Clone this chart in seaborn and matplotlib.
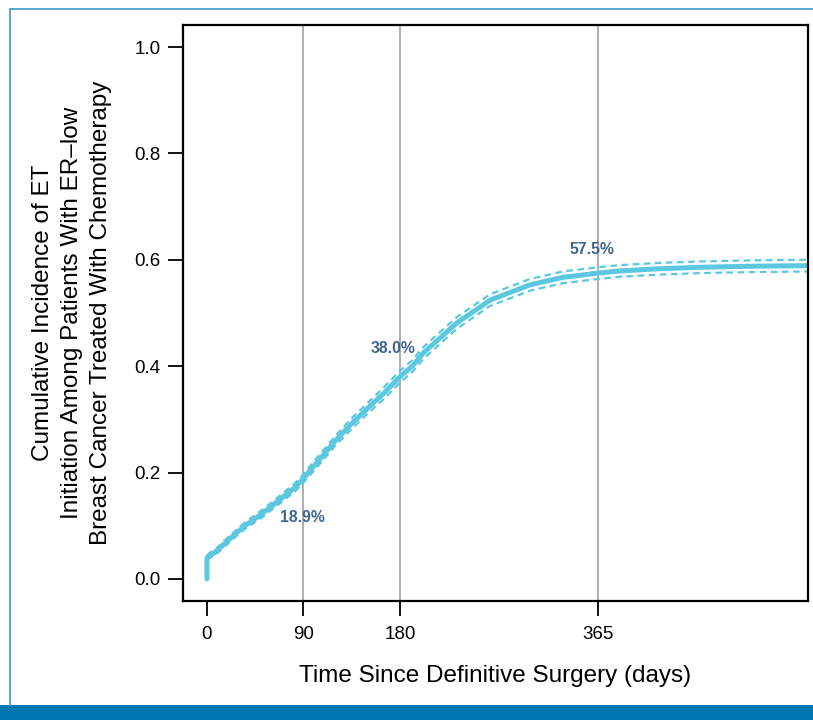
import matplotlib
matplotlib.use("Agg")
import matplotlib.pyplot as plt
import seaborn as sns
import pandas as pd
from matplotlib import font_manager
from matplotlib.patches import Rectangle
from matplotlib.lines import Line2D

# ---- data ----
days = [0, 0, 3, 7.5, 14, 20, 34, 51, 66, 82, 90, 104, 119.5, 135, 150, 166,
        180, 192, 202, 233, 264, 301.5, 332, 365, 385, 420, 460, 510, 561]
incidence = [0.000, 0.040, 0.045, 0.050, 0.062, 0.073, 0.098, 0.122, 0.146, 0.172,
             0.189, 0.222, 0.259, 0.292, 0.321, 0.351, 0.380, 0.401, 0.425, 0.481,
             0.524, 0.553, 0.567, 0.575, 0.579, 0.583, 0.586, 0.588, 0.589]
ci_lower = [None, 0.036, 0.040, 0.045, 0.056, 0.067, 0.092, 0.115, 0.139, 0.164,
            0.181, 0.213, 0.250, 0.282, 0.311, 0.340, 0.369, 0.390, 0.414, 0.470,
            0.513, 0.542, 0.556, 0.564, 0.568, 0.572, 0.575, 0.577, 0.578]
ci_upper = [None, 0.044, 0.050, 0.055, 0.068, 0.079, 0.104, 0.129, 0.153, 0.180,
            0.197, 0.231, 0.268, 0.302, 0.331, 0.362, 0.391, 0.412, 0.436, 0.492,
            0.535, 0.564, 0.578, 0.586, 0.590, 0.594, 0.597, 0.599, 0.600]
x_ticks = [0, 90, 180, 365]
y_ticks = [0.0, 0.2, 0.4, 0.6, 0.8, 1.0]
y_tick_labels = ["0.0", "0.2", "0.4", "0.6", "0.8", "1.0"]
annot_days = [90, 180, 365]
annot_text = ["18.9%", "38.0%", "57.5%"]
annot_y = [0.189, 0.380, 0.575]

# ---- fonts ----
sns.set_style("white")
avail = {f.name for f in font_manager.fontManager.ttflist}
main_font = "Liberation Sans Narrow" if "Liberation Sans Narrow" in avail else "Liberation Sans"
plt.rcParams["font.family"] = [main_font, "DejaVu Sans"]
plt.rcParams["text.color"] = "black"

W, H = 813, 720
fig = plt.figure(figsize=(W / 100, H / 100), dpi=100)
fig.patch.set_facecolor("white")

L, R, T, B = 183, 808, 25, 601
ax = fig.add_axes([L / W, 1 - B / H, (R - L) / W, (B - T) / H])

df = pd.DataFrame({"days": days, "inc": incidence})
df_ci = pd.DataFrame({"days": days[1:], "lo": ci_lower[1:], "hi": ci_upper[1:]})

line_col = "#5bc8e0"
for v in x_ticks[1:]:
    ax.axvline(v, color="#a8a8a8", lw=1.3, zorder=0)

sns.lineplot(data=df_ci, x="days", y="lo", ax=ax, color=line_col, lw=1.6,
             linestyle=(0, (3, 2)), sort=False, estimator=None)
sns.lineplot(data=df_ci, x="days", y="hi", ax=ax, color=line_col, lw=1.6,
             linestyle=(0, (3, 2)), sort=False, estimator=None)
sns.lineplot(data=df, x="days", y="inc", ax=ax, color=line_col, lw=3.6,
             sort=False, estimator=None, solid_capstyle="round")

ax.set_xlim(-22.4, 561)
ax.set_ylim(-0.0415, 1.0415)
ax.set_xticks(x_ticks)
ax.set_xticklabels([str(v) for v in x_ticks])
ax.set_yticks(y_ticks)
ax.set_yticklabels(y_tick_labels)
ax.tick_params(axis="both", direction="out", length=11, width=1.3,
               labelsize=13.5, colors="black", bottom=True, left=True)
ax.tick_params(axis="x", pad=7)
ax.tick_params(axis="y", pad=5)
for s in ax.spines.values():
    s.set_visible(True)
    s.set_color("black")
    s.set_linewidth(1.6)
ax.set_xlabel("")
ax.set_ylabel("")

# annotation offsets in data units (positions from picture)
offs = [(-1.3, -0.074), (-6.4, 0.054), (-5.6, 0.045)]
for d, txt, yv, (dx, dy) in zip(annot_days, annot_text, annot_y, offs):
    ax.text(d + dx, yv + dy, txt, ha="center", va="center", fontsize=11.3,
            fontweight="bold", color="#3d6490", family=["Liberation Sans", "DejaVu Sans"])

fig.text((L + R) / 2 / W, 1 - 676 / H, "Time Since Definitive Surgery (days)",
         ha="center", va="center", fontsize=17.5, color="black")
fig.text(72 / W, 1 - 313 / H,
         "Cumulative Incidence of ET\nInitiation Among Patients With ER\u2013low\nBreast Cancer Treated With Chemotherapy",
         ha="center", va="center", rotation=90, fontsize=17.5, linespacing=1.42,
         multialignment="center", color="black")

# frame and bottom bar
fig.add_artist(Line2D([9.5 / W, 9.5 / W], [1 - 9 / H, 1 - 705 / H],
                      transform=fig.transFigure, color="#4a9fd0", lw=1.3))
fig.add_artist(Line2D([9.5 / W, 1.0], [1 - 9 / H, 1 - 9 / H],
                      transform=fig.transFigure, color="#4a9fd0", lw=1.3))
fig.add_artist(Rectangle((0, 0), 1, 15 / H, transform=fig.transFigure,
                         color="#0077b3", lw=0))

fig.savefig("out.png", dpi=100)
